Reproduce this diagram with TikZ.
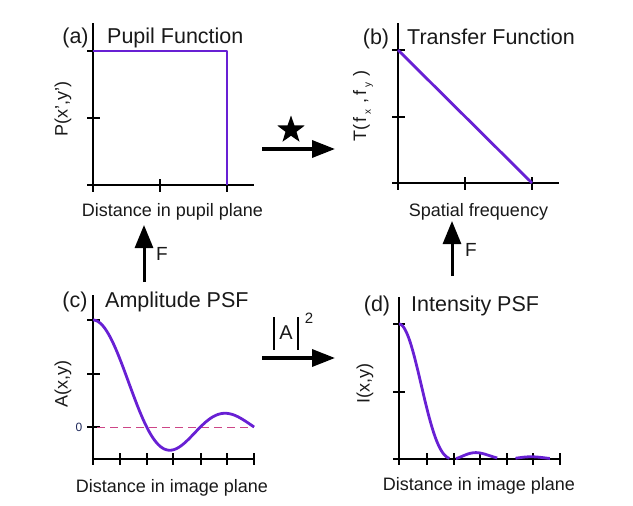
\documentclass[tikz,border=0pt]{standalone}
\usepackage{fontspec}
\setmainfont{Liberation Sans}
\usetikzlibrary{arrows.meta,shapes.geometric}
\definecolor{psf}{RGB}{104,32,212}
\definecolor{zeroline}{RGB}{205,70,135}
\definecolor{txt}{RGB}{25,25,25}
\definecolor{zerotxt}{RGB}{30,40,90}
\begin{document}
\begin{tikzpicture}[x=1pt,y=-1pt,
  axis/.style={line width=1.2pt, black},
  curve/.style={line width=2.8pt, psf, line join=round},
  title/.style={font=\fontsize{21.5}{24}\selectfont, anchor=base west, inner sep=0, text=txt},
  plabel/.style={font=\fontsize{21.5}{24}\selectfont, anchor=base, inner sep=0, text=txt},
  axlabel/.style={font=\fontsize{18}{20}\selectfont, anchor=base, inner sep=0, text=txt},
  ylabel/.style={font=\fontsize{18}{20}\selectfont, rotate=90, inner sep=0, text=txt},
  bigarrow/.style={line width=3.6pt, -{Triangle[length=23pt,width=17pt]}},
  oplabel/.style={font=\fontsize{19}{22}\selectfont, inner sep=0, text=txt}]
\useasboundingbox (0,0) rectangle (633,506);

% ---------- panel (a)
\draw[axis] (93,23) -- (93,192);
\draw[axis] (87,185) -- (254,185);
\foreach \yy in {51,118} \draw[axis] (87,\yy) -- (100,\yy);
\foreach \xx in {160,227} \draw[axis] (\xx,179) -- (\xx,192);
\draw[curve] (93,51) -- (227,51) -- (227,185);
\node[plabel] (la) at (75.5,43) {(a)};
\node[title] (ta) at (107,43) {Pupil Function};
\node[axlabel] (xa) at (172.5,216) {Distance in pupil plane};
\node[ylabel] (ya) at (63,109) {P(x',y')};

% ---------- panel (b)
\draw[axis] (398,23) -- (398,190);
\draw[axis] (392,183) -- (559,183);
\foreach \yy in {50,117} \draw[axis] (392,\yy) -- (405,\yy);
\foreach \xx in {465,532} \draw[axis] (\xx,177) -- (\xx,190);
\draw[curve] (398,50) -- (532,183);
\node[plabel] (lb) at (376,44) {(b)};
\node[title] (tb) at (407,44) {Transfer Function};
\node[axlabel] (xb) at (478.5,216) {Spatial frequency};
\node[ylabel] (yb) at (363,106) {T(\,f\,\raisebox{-0.5ex}{\fontsize{10}{11}\selectfont x}\,\,,\,f\,\raisebox{-0.5ex}{\fontsize{10}{11}\selectfont y}\,\,)};

% ---------- panel (c)
\draw[axis] (93,295) -- (93,465);
\draw[axis] (93,459) -- (254,459);
\foreach \yy in {320,374,427} \draw[axis] (87,\yy) -- (100,\yy);
\foreach \xx in {120,147,173,201,227,254} \draw[axis] (\xx,453) -- (\xx,465);
\draw[zeroline, line width=1pt, dash pattern=on 8pt off 5pt] (97,427) -- (254,427);
\draw[curve] plot[domain=0.001:3, samples=150, smooth] ({93+53.7*\x},{427-107*sin(180*\x)/(pi*\x)});
\node[font=\fontsize{12}{14}\selectfont, text=zerotxt] (zero) at (79,427) {0};
\node[plabel] (lc) at (75,307) {(c)};
\node[title] (tc) at (105,307) {Amplitude PSF};
\node[axlabel] (xc) at (172,492) {Distance in image plane};
\node[ylabel] (yc) at (63,384) {A(x,y)};

% ---------- panel (d)
\draw[axis] (399,297) -- (399,465);
\draw[axis] (393,459) -- (560,459);
\foreach \yy in {324,392} \draw[axis] (393,\yy) -- (405,\yy);
\foreach \xx in {427,454,480,507,533,560} \draw[axis] (\xx,453) -- (\xx,465);
\draw[curve] plot[domain=0.001:0.94, samples=80, smooth] ({399+53.7*\x},{459-135*(sin(180*\x)/(pi*\x))^2});
\draw[curve] plot[domain=1.06:1.83, samples=60, smooth] ({399+53.7*\x},{459-135*(sin(180*\x)/(pi*\x))^2});
\draw[curve] plot[domain=2.17:2.81, samples=50, smooth] ({399+53.7*\x},{459-135*(sin(180*\x)/(pi*\x))^2});
\node[plabel] (ld) at (377,311) {(d)};
\node[title] (td) at (411,311) {Intensity PSF};
\node[axlabel] (xd) at (479,490) {Distance in image plane};
\node[ylabel] (yd) at (365,384) {I(x,y)};

% ---------- operator arrows
\coordinate (s1) at (262,149);
\coordinate (e1) at (335,149);
\draw[bigarrow] (s1) -- (e1);
\node[star, star points=5, star point ratio=2.5, fill=black, inner sep=0, minimum size=29pt] (star) at (291,130) {};

\coordinate (s2) at (262,358);
\coordinate (e2) at (335,358);
\draw[bigarrow] (s2) -- (e2);
\node[font=\fontsize{20}{22}\selectfont, inner sep=0, text=txt] (absA) at (286,333) {A};
\draw[line width=2pt] (274,317) -- (274,350);
\draw[line width=2pt] (298,317) -- (298,350);
\node[font=\fontsize{15}{17}\selectfont, inner sep=0, text=txt] (sq) at (309,318) {2};

\coordinate (s3) at (144,282);
\coordinate (e3) at (144,225);
\draw[line width=3pt, -{Triangle[length=23pt,width=18pt]}] (s3) -- (e3);
\node[oplabel] (F1) at (162,254) {F};

\coordinate (s4) at (452,276);
\coordinate (e4) at (452,221);
\draw[line width=3pt, -{Triangle[length=23pt,width=18pt]}] (s4) -- (e4);
\node[oplabel] (F2) at (471,250) {F};
\end{tikzpicture}
\end{document}
